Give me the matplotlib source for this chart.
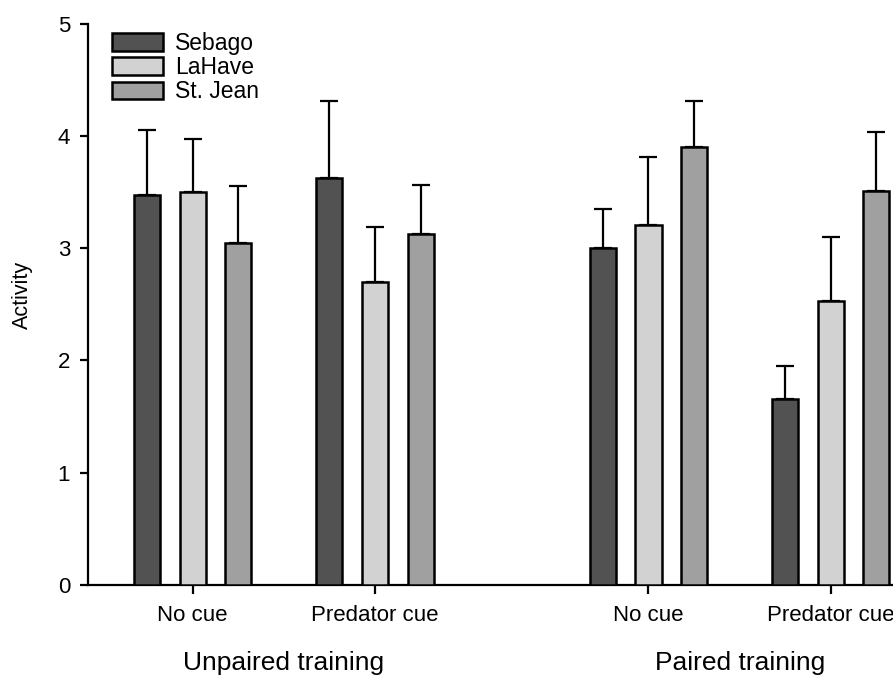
import matplotlib
matplotlib.use("Agg")
import matplotlib.pyplot as plt
import matplotlib.transforms as mtransforms
import numpy as np

plt.rcParams['font.family'] = ['Liberation Sans', 'DejaVu Sans']

# data
conditions = ["No cue", "Predator cue", "No cue", "Predator cue"]
trainings = ["Unpaired training", "Paired training"]
strains = ["Sebago", "LaHave", "St. Jean"]
colors = ["#525252", "#d2d2d2", "#a0a0a0"]

sebago = [3.47, 3.62, 3.00, 1.66]
sebago_err = [0.58, 0.69, 0.35, 0.29]
lahave = [3.50, 2.70, 3.21, 2.53]
lahave_err = [0.47, 0.49, 0.60, 0.57]
stjean = [3.05, 3.13, 3.90, 3.51]
stjean_err = [0.50, 0.43, 0.41, 0.52]

means = [sebago, lahave, stjean]
errs = [sebago_err, lahave_err, stjean_err]

# group positions: two conditions per training, wider gap between trainings
pos = np.array([0.0, 1.0, 2.5, 3.5])
offset = 0.25
width = 0.143

fig = plt.figure(figsize=(8.93, 6.76), dpi=100)
ax = fig.add_axes([0.0985, 0.1346, 0.9015, 0.8306])

for i in range(3):
  x = pos + (i - 1) * offset
  ax.bar(x, means[i], width, color=colors[i], edgecolor="black",
         linewidth=1.8, label=strains[i], zorder=3)
  ax.errorbar(x, means[i], yerr=[np.zeros(4), errs[i]], fmt="none",
              ecolor="black", elinewidth=1.6, capsize=6.5, capthick=1.6, zorder=2)

ax.set_xlim(-0.574, 3.841)
ax.set_ylim(0, 5)
ax.set_yticks([0, 1, 2, 3, 4, 5])
ax.set_xticks(pos)
ax.set_xticklabels(conditions)

for s in ["top", "right"]:
  ax.spines[s].set_visible(False)
for s in ["left", "bottom"]:
  ax.spines[s].set_linewidth(1.6)
ax.spines["left"].set_bounds(0, 5)

ax.tick_params(axis="y", direction="out", length=5.8, width=1.6, pad=7, labelsize=16)
ax.tick_params(axis="x", direction="out", length=6.5, width=1.6, pad=8, labelsize=16)

ax.set_ylabel("Activity", fontsize=15.5)
ax.yaxis.set_label_coords(-0.068, 0.516)

trans = mtransforms.blended_transform_factory(ax.transData, ax.transAxes)
ax.text((pos[0] + pos[1]) / 2, -0.139, trainings[0], transform=trans,
        ha="center", va="center", fontsize=19)
ax.text((pos[2] + pos[3]) / 2, -0.139, trainings[1], transform=trans,
        ha="center", va="center", fontsize=19)

leg = ax.legend(loc="upper left", bbox_to_anchor=(0.0294, 0.985), frameon=False,
                fontsize=16.5, borderpad=0, borderaxespad=0, handlelength=2.25,
                handleheight=0.8, handletextpad=0.5, labelspacing=0.05)
for h in leg.legend_handles:
  h.set_linewidth(1.8)

fig.savefig("out.png", dpi=100)
